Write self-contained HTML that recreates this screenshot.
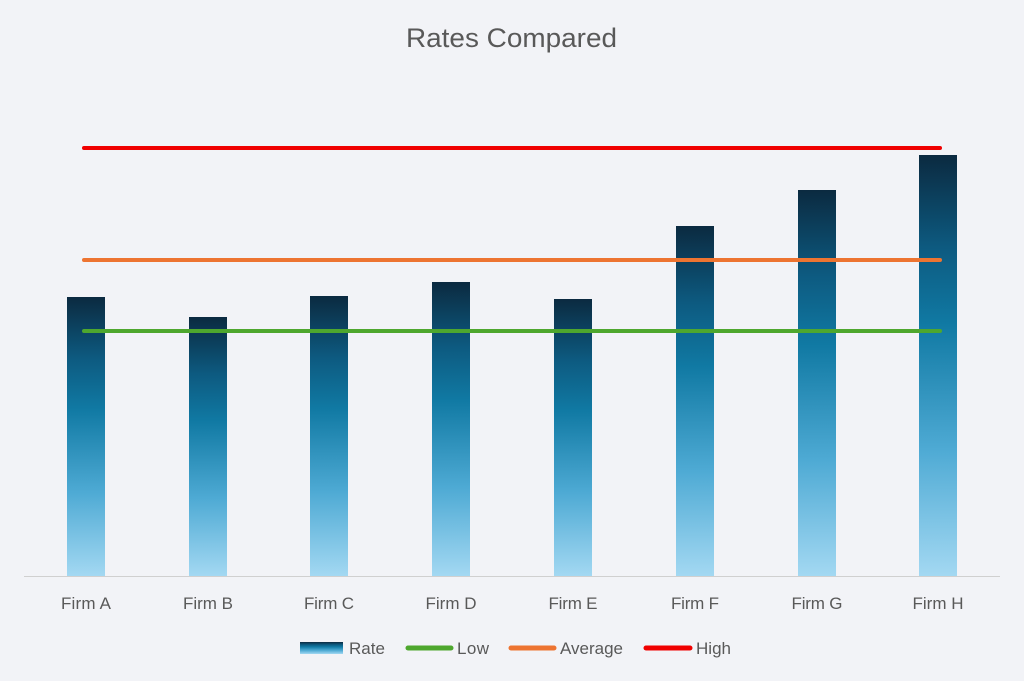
<!DOCTYPE html>
<html><head><meta charset="utf-8"><style>
html,body{margin:0;padding:0;background:#f2f3f7;}
svg{display:block;font-family:"Liberation Sans",sans-serif;}
</style></head><body>
<svg width="1024" height="681" viewBox="0 0 1024 681" xmlns="http://www.w3.org/2000/svg">
<defs>
<linearGradient id="g" x1="0" y1="0" x2="0" y2="1">
<stop offset="0" stop-color="#0b2a40"/>
<stop offset="0.22" stop-color="#0d5a80"/>
<stop offset="0.4" stop-color="#1079a3"/>
<stop offset="0.7" stop-color="#4eaad4"/>
<stop offset="1" stop-color="#a3d8f2"/>
</linearGradient>
</defs>
<rect width="1024" height="681" fill="#f2f3f7"/>
<text x="406" y="47" font-size="27" fill="#595959" textLength="211" lengthAdjust="spacingAndGlyphs">Rates Compared</text>
<g fill="url(#g)">
<rect x="67" y="297" width="38" height="279"/>
<rect x="189" y="317" width="38" height="259"/>
<rect x="310" y="296" width="38" height="280"/>
<rect x="432" y="282" width="38" height="294"/>
<rect x="554" y="299" width="38" height="277"/>
<rect x="676" y="226" width="38" height="350"/>
<rect x="798" y="190" width="38" height="386"/>
<rect x="919" y="155" width="38" height="421"/>
</g>
<line x1="24" y1="576.5" x2="1000" y2="576.5" stroke="#d0d0d0" stroke-width="1"/>
<line x1="84" y1="331" x2="940" y2="331" stroke="#4ea72e" stroke-width="4" stroke-linecap="round"/>
<line x1="84" y1="260" x2="940" y2="260" stroke="#ed7431" stroke-width="4" stroke-linecap="round"/>
<line x1="84" y1="148" x2="940" y2="148" stroke="#f00000" stroke-width="4" stroke-linecap="round"/>
<g font-size="17" fill="#595959" text-anchor="middle" lengthAdjust="spacingAndGlyphs">
<text x="86" y="609" textLength="50">Firm A</text>
<text x="208" y="609" textLength="50">Firm B</text>
<text x="329" y="609" textLength="50">Firm C</text>
<text x="451" y="609" textLength="51">Firm D</text>
<text x="573" y="609" textLength="49">Firm E</text>
<text x="695" y="609" textLength="48">Firm F</text>
<text x="817" y="609" textLength="51">Firm G</text>
<text x="938" y="609" textLength="51">Firm H</text>
</g>
<rect x="300" y="642" width="43" height="12" fill="url(#g)"/>
<line x1="408" y1="648" x2="451" y2="648" stroke="#4ea72e" stroke-width="5" stroke-linecap="round"/>
<line x1="511" y1="648" x2="554" y2="648" stroke="#ed7431" stroke-width="5" stroke-linecap="round"/>
<line x1="646" y1="648" x2="690" y2="648" stroke="#f00000" stroke-width="5" stroke-linecap="round"/>
<g font-size="17" fill="#595959" lengthAdjust="spacingAndGlyphs">
<text x="349" y="654" textLength="36">Rate</text>
<text x="457" y="654" textLength="32">Low</text>
<text x="560" y="654" textLength="63">Average</text>
<text x="696" y="654" textLength="35">High</text>
</g>
</svg>
</body></html>
